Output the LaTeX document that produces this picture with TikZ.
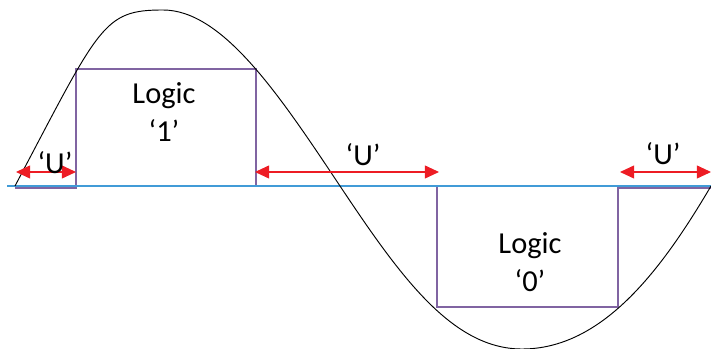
\documentclass[tikz,border=0pt]{standalone}
\usepackage{fontspec}
\setmainfont{Carlito}
\usepackage{tikz}
\usetikzlibrary{arrows.meta}
\definecolor{axisblue}{RGB}{65,155,215}
\definecolor{lvlpurple}{RGB}{128,100,162}
\definecolor{arrred}{RGB}{237,28,36}

\begin{document}
\begin{tikzpicture}[x=0.03cm,y=0.03cm,
		uarrow/.style={arrred,line width=1pt,{Triangle[length=12pt,width=11pt]}-{Triangle[length=12pt,width=11pt]}},
		utext/.style={font=\fontsize{26}{31}\selectfont,anchor=base,inner sep=0pt},
		ltext/.style={font=\fontsize{26}{32}\selectfont,align=center,inner sep=0pt}]
			\useasboundingbox (0,-163) rectangle (711,186);
			
			% 逻辑电平
			\coordinate (s0) at (15,-2);
			\coordinate (s1) at (76,-2);
			\coordinate (h0) at (76,117);
			\coordinate (h1) at (256,117);
			\coordinate (m0) at (256,0);
			\coordinate (m1) at (437,0);
			\coordinate (l0) at (437,-121);
			\coordinate (l1) at (618,-121);
			\coordinate (e0) at (618,-2);
			\coordinate (e1) at (711,-2);
			\draw[lvlpurple,line width=0.9pt]
			(s0) -- (s1) -- (h0) -- (h1) -- (m0) -- (m1) -- (l0) -- (l1) -- (e0) -- (e1);
			
			\coordinate (ax0) at (7,0);
			\coordinate (ax1) at (711,0);
			\draw[axisblue,line width=1pt] (ax0) -- (ax1);
			
			% 正弦波
			\draw[line width=0.8pt] (15,0) .. controls (100,161) and (103,176) .. (163,176)
			.. controls (223,176) and (280,90) .. (340,0)
			.. controls (400,-90) and (452,-163) .. (522,-163)
			.. controls (602,-163) and (661,-85) .. (711,0);
			
			% 不确定区
			\coordinate (ua0) at (16,14);
			\coordinate (ua1) at (76,14);
			\coordinate (ub0) at (255,14);
			\coordinate (ub1) at (439,14);
			\coordinate (uc0) at (620,14);
			\coordinate (uc1) at (711,14);
			\draw[uarrow] (ua0) -- (ua1);
			\draw[uarrow] (ub0) -- (ub1);
			\draw[uarrow] (uc0) -- (uc1);
			
			\node[utext] (u1) at (55,12) {‘U’};
			\node[utext] (u2) at (363,20) {‘U’};
			\node[utext] (u3) at (663,21) {‘U’};
			
			\node[ltext] (logic1) at (164,74) {Logic\\‘1’};
			\node[ltext] (logic0) at (530,-76) {Logic\\‘0’};
		\end{tikzpicture}
\end{document}
